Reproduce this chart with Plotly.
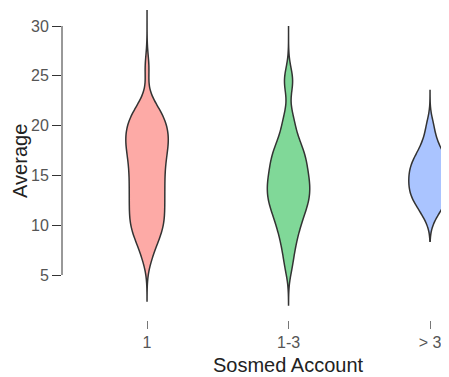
import plotly.graph_objects as go

categories = ["1", "1-3", "> 3"]

values_1 = [6.6, 7.5, 8.3, 8.8, 9.2, 9.5, 9.8, 10.2, 10.5, 10.8, 11.2, 11.5, 11.8,
            12.2, 12.5, 12.8, 13.2, 13.5, 13.8, 14.2, 14.5, 14.8, 15.2, 15.5, 15.8,
            16.2, 16.5, 16.8, 17.1, 17.4, 17.7, 18.0, 18.2, 18.5, 18.8, 19.0, 19.2,
            19.5, 19.8, 20.1, 20.4, 20.7, 21.0, 21.3, 21.7, 22.3, 25.8]
values_2 = [5.8, 7.2, 8.2, 9.0, 9.6, 10.2, 10.7, 11.1, 11.5, 11.9, 12.2, 12.5,
            12.8, 13.1, 13.4, 13.7, 14.0, 14.3, 14.6, 14.9, 15.2, 15.6, 16.0,
            16.3, 16.7, 17.0, 17.4, 17.8, 18.3, 19.0, 20.0, 21.0, 24.0, 25.0]
values_3 = [10.8, 11.6, 12.1, 12.5, 12.8, 13.1, 13.4, 13.7, 14.0, 14.3, 14.6,
            14.9, 15.2, 15.5, 15.8, 16.1, 16.4, 16.8, 17.2, 17.8, 18.6, 20.0]

spans = [[2.4, 31.6], [2.0, 30.0], [8.4, 23.6]]
bandwidths = [1.3, 1.2, 1.0]
y_ticks = [5, 10, 15, 20, 25, 30]

fills = ["#fdaaa6", "#80d898", "#aac4ff"]
all_values = [values_1, values_2, values_3]

fig = go.Figure()
for cat, vals, sp, bw, col in zip(categories, all_values, spans, bandwidths, fills):
    fig.add_trace(go.Violin(
        x=[cat] * len(vals), y=vals, name=cat,
        spanmode="manual", span=sp, bandwidth=bw,
        points=False, fillcolor=col, opacity=1,
        line=dict(color="#333333", width=1.5),
        width=0.3, scalemode="width", side="both",
        box_visible=False, meanline_visible=False,
        hoverinfo="skip", showlegend=False,
    ))

# the page body has an 8px margin, so the figure is drawn 8px in from the top-left
fig.update_layout(
    width=441, height=369,
    margin=dict(l=54, r=0, t=0, b=57),
    paper_bgcolor="white", plot_bgcolor="white",
    violinmode="overlay",
    font=dict(family="Liberation Sans, Arial, sans-serif", size=16, color="#555555"),
    showlegend=False,
    xaxis=dict(
        type="category", categoryorder="array", categoryarray=categories,
        range=[-0.601, 2.134], showgrid=False, zeroline=False, showline=False,
        ticks="outside", ticklen=8, tickcolor="#777777", tickwidth=1,
        tickfont=dict(size=16, color="#555555"),
    ),
    yaxis=dict(
        range=[0.482, 31.807], tickvals=y_ticks, showgrid=False, zeroline=False,
        showline=False, ticks="outside", ticklen=9, tickcolor="#333333", tickwidth=1,
        tickfont=dict(size=16, color="#555555"),
    ),
    shapes=[dict(type="line", xref="paper", yref="y", x0=0, x1=0,
                 y0=y_ticks[0], y1=y_ticks[-1],
                 line=dict(color="#333333", width=1))],
    annotations=[
        dict(text="Sosmed Account", xref="x", x=1, yref="paper", y=0,
             yshift=-45, yanchor="middle", xanchor="center", showarrow=False,
             font=dict(size=20, color="#222222")),
        dict(text="Average", xref="paper", x=0, xshift=-42, yref="paper", y=0.51,
             xanchor="center", yanchor="middle", textangle=-90, showarrow=False,
             font=dict(size=20, color="#222222")),
    ],
)

fig.write_html("out.html")
